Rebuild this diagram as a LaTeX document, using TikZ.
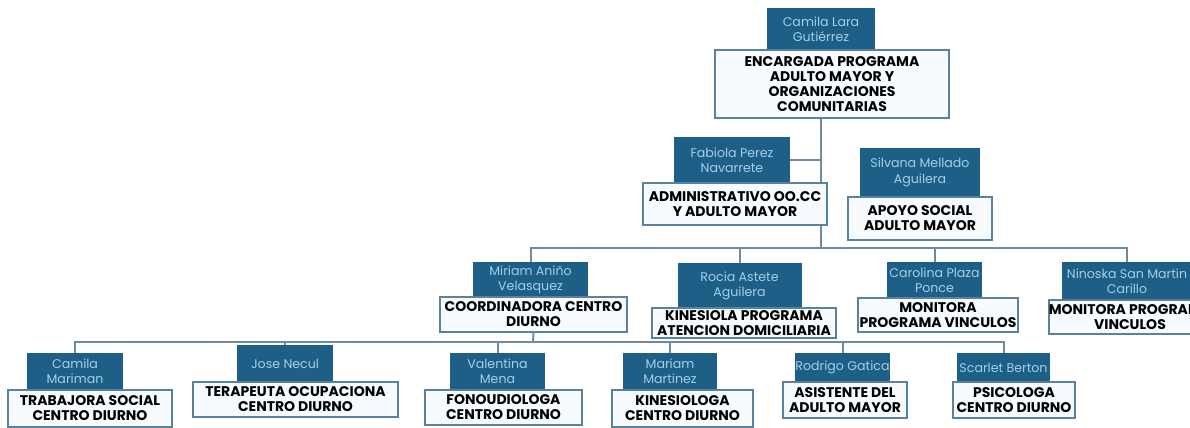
\documentclass[tikz,border=0pt]{standalone}
\usepackage{fontspec}
\setmainfont{Poppins}
\usetikzlibrary{backgrounds}
\definecolor{azul}{HTML}{1E5F87}
\definecolor{celeste}{HTML}{A3CFE8}
\definecolor{borde}{HTML}{5A82A0}
\definecolor{fondo}{HTML}{F7FBFD}
\definecolor{gris}{HTML}{6E8CA0}

\begin{document}
\begin{tikzpicture}[x=0.5pt,y=-0.5pt,
		nombre/.style={fill=azul,text=celeste,font=\fontsize{6.3}{7.6}\selectfont,align=center,inner sep=0pt},
		cargo/.style={draw=borde,line width=0.8pt,fill=fondo,font=\bfseries\fontsize{7}{7.5}\selectfont,align=center,inner sep=0pt},
		linea/.style={draw=gris,line width=1pt}]
	\useasboundingbox (0,0) rectangle (1190,428);
	\clip (0,0) rectangle (1190,428);

	\node[nombre,minimum width=54pt,minimum height=21pt] (n0) at (821,29) {Camila Lara\\Gutiérrez};
	\node[cargo,minimum width=117pt,minimum height=34pt] (c0) at (832,84) {ENCARGADA PROGRAMA\\ADULTO MAYOR Y\\ORGANIZACIONES\\COMUNITARIAS};

	\node[nombre,minimum width=58pt,minimum height=23pt] (n1) at (732,160) {Fabiola Perez\\Navarrete};
	\node[cargo,minimum width=92pt,minimum height=21pt] (c1) at (735,204) {ADMINISTRATIVO OO.CC\\Y ADULTO MAYOR};
	\node[nombre,minimum width=60pt,minimum height=24.5pt] (n2) at (920,172.5) {Silvana Mellado\\Aguilera};
	\node[cargo,minimum width=72pt,minimum height=21.5pt] (c2) at (920,218.5) {APOYO SOCIAL\\ADULTO MAYOR};

	\node[nombre,minimum width=57.5pt,minimum height=17.5pt] (n3) at (530.5,279.5) {Miriam Aniño\\Velasquez};
	\node[cargo,minimum width=93.5pt,minimum height=17.5pt] (c3) at (533.5,314.5) {COORDINADORA CENTRO\\DIURNO};
	\node[nombre,minimum width=62pt,minimum height=23pt] (n4) at (739.5,286) {Rocia Astete\\Aguilera};
	\node[cargo,minimum width=92pt,minimum height=15pt] (c4) at (744,323) {KINESIOLA PROGRAMA\\ATENCION DOMICILIARIA};
	\node[nombre,minimum width=47.5pt,minimum height=18pt] (n5) at (934.5,280) {Carolina Plaza\\Ponce};
	\node[cargo,minimum width=80pt,minimum height=17pt] (c5) at (938,315) {MONITORA\\PROGRAMA VINCULOS};
	\node[nombre,minimum width=65pt,minimum height=19pt] (n6) at (1127,281) {Ninoska San Martin\\Carillo};
	\node[cargo,minimum width=80pt,minimum height=17pt] (c6) at (1130,317) {MONITORA PROGRAMA\\VINCULOS};

	\node[nombre,minimum width=48pt,minimum height=18.5pt] (n7) at (75,371.5) {Camila\\Mariman};
	\node[cargo,minimum width=82pt,minimum height=18.5pt] (c7) at (90,408.5) {TRABAJORA SOCIAL\\CENTRO DIURNO};
	\node[nombre,minimum width=48pt,minimum height=18.5pt] (n8) at (285,363.5) {Jose Necul};
	\node[cargo,minimum width=102.5pt,minimum height=17.5pt] (c8) at (295.5,399.5) {TERAPEUTA OCUPACIONA\\CENTRO DIURNO};
	\node[nombre,minimum width=47.5pt,minimum height=18.5pt] (n9) at (497.5,371.5) {Valentina\\Mena};
	\node[cargo,minimum width=78.5pt,minimum height=17.5pt] (c9) at (503.5,407.5) {FONOUDIOLOGA\\CENTRO DIURNO};
	\node[nombre,minimum width=47pt,minimum height=18.5pt] (n10) at (670,371.5) {Mariam\\Martinez};
	\node[cargo,minimum width=70.5pt,minimum height=18.5pt] (c10) at (682.5,408.5) {KINESIOLOGA\\CENTRO DIURNO};
	\node[nombre,minimum width=47.5pt,minimum height=14.5pt] (n11) at (842.5,367.5) {Rodrigo Gatica};
	\node[cargo,minimum width=62pt,minimum height=18pt] (c11) at (845,400) {ASISTENTE DEL\\ADULTO MAYOR};
	\node[nombre,minimum width=46.5pt,minimum height=14.5pt] (n12) at (1003.5,367.5) {Scarlet Berton};
	\node[cargo,minimum width=61pt,minimum height=18pt] (c12) at (1014,400) {PSICOLOGA\\CENTRO DIURNO};

	\coordinate (tronco) at (821,248);
	\coordinate (tronco2) at (533,342);

	\begin{scope}[on background layer]
		\draw[linea] (c0.south -| tronco) -- (tronco);
		\draw[linea] (n1.east) -- (n1.east -| tronco);
		\draw[linea] (n3.north) |- (tronco) -| (n6.north);
		\draw[linea] (n4.north) -- (n4.north |- tronco);
		\draw[linea] (n5.north) -- (n5.north |- tronco);

		\draw[linea] (c3.south) -- (tronco2);
		\draw[linea] (n7.north) |- (tronco2) -| (n12.north);
		\draw[linea] (n8.north) -- (n8.north |- tronco2);
		\draw[linea] (n9.north) -- (n9.north |- tronco2);
		\draw[linea] (n10.north) -- (n10.north |- tronco2);
		\draw[linea] (n11.north) -- (n11.north |- tronco2);
	\end{scope}
\end{tikzpicture}
\end{document}
